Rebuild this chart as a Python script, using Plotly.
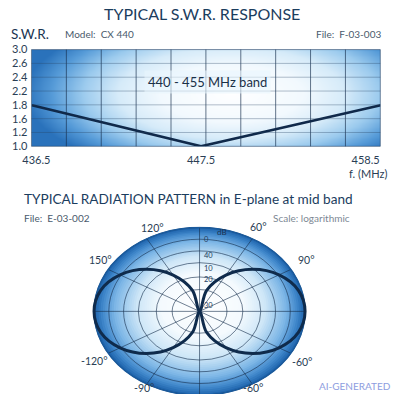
import numpy as np
import plotly.graph_objects as go

# ---------------- data ----------------
# S.W.R. response
freq_mhz = [436.2, 447.5, 459.5]
swr_values = [1.85, 1.0, 1.85]
swr_tick_text = ["1.0", "1.2", "1.6", "1.8", "2.2", "2.4", "2.6", "3.0"]
freq_tick_vals = [436.5, 447.5, 458.5]
freq_tick_text = ["436.5", "447.5", "458.5"]

# Radiation pattern (relative radius vs angle)
pattern_angle_deg = [0, 15, 30, 45, 60, 75, 90, 105, 120, 135, 150, 165,
                     180, 195, 210, 225, 240, 255, 270, 285, 300, 315, 330, 345, 360]
pattern_r = [1.00, 0.97, 0.87, 0.71, 0.50, 0.26, 0.00, 0.26, 0.50, 0.71, 0.87, 0.97,
             1.00, 0.97, 0.87, 0.71, 0.50, 0.26, 0.00, 0.26, 0.50, 0.71, 0.87, 0.97, 1.00]
ring_r = [0.26, 0.41, 0.58, 0.72, 0.86, 1.0]
spoke_deg = [0, 30, 60, 90, 120, 150, 180, 210, 240, 270, 300, 330]
angle_label_text = ["90°", "120°", "60°", "150°", "90°", "-180°", "30°", "-120°", "-60°", "-90°", "-60°"]
angle_label_deg = [90, 114, 61, 147, 31, 181, -1, 211, -32, 240, -61]
angle_label_r = [1.10, 1.09, 1.15, 1.12, 1.18, 1.11, 1.14, 1.16, 1.14, 1.06, 1.05]
radial_label_text = ["0", "40", "10", "20", "30"]
radial_label_v = [0.86, 0.67, 0.51, 0.38, 0.07]

FONT = "Lato"
NAVY = "#1a3a5a"

fig = go.Figure()

# ---------------- SWR background gradient ----------------
X_RANGE = [436.17, 459.48]
hx = np.linspace(X_RANGE[0], X_RANGE[1], 80)
hy = np.linspace(1.0, 3.0, 40)
HX, HY = np.meshgrid(hx, hy)
dz = np.sqrt(((HX - 449.5) / 14.5) ** 2 + ((HY - 2.1) / 1.8) ** 2)
fig.add_trace(go.Heatmap(
    x=hx, y=hy, z=dz, zmin=0, zmax=0.95, zsmooth="best", showscale=False,
    hoverinfo="skip",
    colorscale=[[0, "#ffffff"], [0.35, "#f2f9fe"], [0.55, "#d6ebf9"], [0.72, "#9ccbee"],
                [0.87, "#569bd8"], [1, "#2a72bb"]],
    xaxis="x", yaxis="y"))

fig.add_trace(go.Scatter(
    x=freq_mhz, y=swr_values, mode="lines",
    line=dict(color="#10294a", width=2.5), hoverinfo="skip",
    xaxis="x", yaxis="y", showlegend=False))

shapes = []
# vertical grid
for i in range(1, 10):
    shapes.append(dict(type="line", xref="x domain", yref="y domain",
                       x0=i / 10, x1=i / 10, y0=0, y1=1,
                       line=dict(color="rgba(20,45,75,0.65)", width=1), layer="above"))
# horizontal grid
for i in range(1, 7):
    shapes.append(dict(type="line", xref="x domain", yref="y domain",
                       x0=0, x1=1, y0=i / 7, y1=i / 7,
                       line=dict(color="rgba(40,70,100,0.35)", width=1), layer="above"))
shapes.append(dict(type="rect", xref="x domain", yref="y domain", x0=0, x1=1, y0=0, y1=1,
                   line=dict(color="rgba(25,60,100,0.6)", width=1), layer="above"))

# ---------------- polar (elliptical) background ----------------
def lerp_color(stops, t):
    for (t0, c0), (t1, c1) in zip(stops[:-1], stops[1:]):
        if t0 <= t <= t1:
            f = (t - t0) / (t1 - t0) if t1 > t0 else 0
            a = [int(c0[k:k + 2], 16) for k in (1, 3, 5)]
            b = [int(c1[k:k + 2], 16) for k in (1, 3, 5)]
            return "rgb(%d,%d,%d)" % tuple(round(a[j] + (b[j] - a[j]) * f) for j in range(3))
    return stops[-1][1]

grad_stops = [(0.0, "#ffffff"), (0.4, "#f4fafe"), (0.62, "#cde6f7"), (0.82, "#7db6e6"),
              (0.93, "#4289cc"), (1.0, "#2066ae")]
N = 50
for k in range(N):
    r = 1.0 - k / N
    cx = 0.04 * (1 - r)
    cy = 0.12 * (1 - r)
    shapes.append(dict(type="circle", xref="x2", yref="y2",
                       x0=cx - r, x1=cx + r, y0=cy - r, y1=cy + r,
                       fillcolor=lerp_color(grad_stops, r), line=dict(width=0), layer="below"))

for rr in ring_r:
    shapes.append(dict(type="circle", xref="x2", yref="y2", x0=-rr, x1=rr, y0=-rr, y1=rr,
                       line=dict(color="rgba(20,45,75,0.6)", width=1), layer="below"))
for d in spoke_deg:
    t = np.deg2rad(d)
    shapes.append(dict(type="line", xref="x2", yref="y2", x0=0, y0=0,
                       x1=float(np.cos(t)), y1=float(np.sin(t)),
                       line=dict(color="rgba(20,45,75,0.6)", width=1), layer="below"))
shapes.append(dict(type="circle", xref="x2", yref="y2", x0=-1, x1=1, y0=-1, y1=1,
                   line=dict(color="#1a5a9c", width=1.5), layer="below"))

th = np.deg2rad(pattern_angle_deg)
pr = np.array(pattern_r)
fig.add_trace(go.Scatter(
    x=pr * np.cos(th), y=pr * np.sin(th), mode="lines",
    line=dict(color="#0f2b4c", width=3, shape="spline", smoothing=1.0),
    hoverinfo="skip", xaxis="x2", yaxis="y2", showlegend=False))

# ---------------- annotations ----------------
ann = []
def txt(x, y, s, size, color=NAVY, xanchor="left", yanchor="middle", xref="paper", yref="paper", **kw):
    ann.append(dict(x=x, y=y, text=s, showarrow=False, xref=xref, yref=yref,
                    xanchor=xanchor, yanchor=yanchor,
                    font=dict(family=FONT, size=size, color=color), **kw))

def px(xp, yp):
    return xp / 394, 1 - yp / 400

txt(*px(197, 7), "TYPICAL S.W.R. RESPONSE", 16, "#1b3d5e", xanchor="center")
txt(*px(0, 28), "S.W.R.", 13.5, "#1b3552")
txt(*px(55, 28), "Model:  CX 440", 10, "#4a5a6c")
txt(*px(383, 28), "File:  F-03-003", 10, "#4a5a6c", xanchor="right")
txt(*px(367, 172), "f. (MHz)", 11, "#2a3e55", xanchor="center")
ann.append(dict(x=447.9, y=2.33, xref="x", yref="y", text="440 - 455 MHz band", showarrow=False,
                font=dict(family=FONT, size=13, color="#1a3048"),
                bgcolor="rgba(232,245,253,0.6)", borderpad=3))

txt(*px(13, 198), "TYPICAL RADIATION PATTERN in E-plane at mid band", 13.6, "#1b3d5e")
txt(*px(13, 218), "File:  E-03-002", 10, "#4a5a6c")
txt(*px(268, 218), "Scale: logarithmic", 10, "#7d8894")
txt(*px(393, 392), "AI-GENERATED", 10, "#8d9de0", xanchor="right")

for s, d, r in zip(angle_label_text, angle_label_deg, angle_label_r):
    t = np.deg2rad(d)
    txt(float(r * np.cos(t)), float(r * np.sin(t)), s, 10.5, "#2a3e55",
        xanchor="center", xref="x2", yref="y2")
for s, v in zip(radial_label_text, radial_label_v):
    txt(0.02, v, s, 7.5, "#24405e", xref="x2", yref="y2")
txt(0.21, 0.95, "dB", 8, "#1e3450", xanchor="center", xref="x2", yref="y2")

fig.update_layout(
    width=394, height=400, margin=dict(l=0, r=0, t=0, b=0),
    paper_bgcolor="white", plot_bgcolor="rgba(0,0,0,0)",
    showlegend=False, shapes=shapes, annotations=ann,
    xaxis=dict(domain=[23 / 394, 380 / 394], range=X_RANGE, anchor="y",
               tickvals=freq_tick_vals, ticktext=freq_tick_text, showgrid=False, zeroline=False,
               ticks="", ticklabelstandoff=6, fixedrange=True,
               tickfont=dict(family=FONT, size=11, color="#2a3e55")),
    yaxis=dict(domain=[1 - 144 / 400, 1 - 44 / 400], range=[1.0, 3.0], anchor="x",
               tickvals=list(np.linspace(1.0, 3.0, 8)), ticktext=swr_tick_text,
               showgrid=False, zeroline=False, ticks="", ticklabelstandoff=3, fixedrange=True,
               tickfont=dict(family=FONT, size=11, color="#2a3e55")),
    xaxis2=dict(domain=[80 / 394, 310 / 394], range=[-1.065, 1.065], anchor="y2",
                visible=False, fixedrange=True),
    yaxis2=dict(domain=[0, 1 - 227 / 400], range=[-0.985, 1.01], anchor="x2",
                visible=False, fixedrange=True),
)

fig.write_html("out.html")
